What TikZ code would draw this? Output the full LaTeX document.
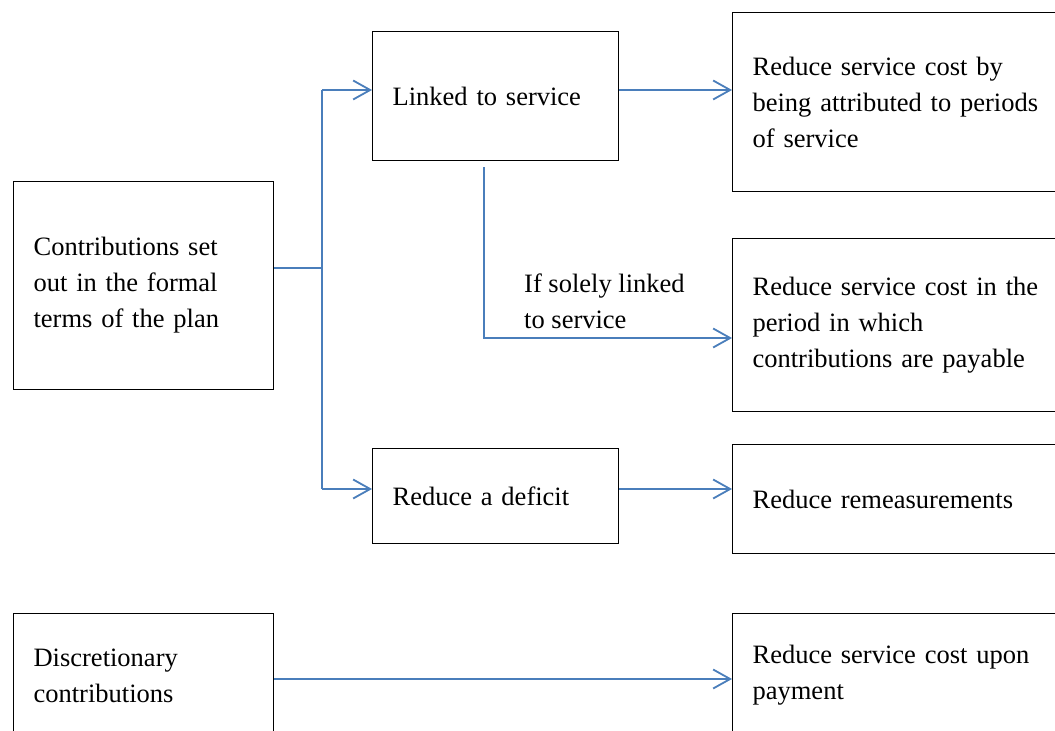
\documentclass[tikz,border=0pt]{standalone}
\usepackage{fontspec}
\setmainfont{Liberation Serif}
\usetikzlibrary{arrows.meta,calc}
\definecolor{conn}{RGB}{74,126,187}
\tikzset{
  box/.style={draw=black, line width=1.2pt, anchor=north west, inner xsep=20pt, inner ysep=0pt,
    align=left, font=\fontsize{26.5}{36}\selectfont},
  conn/.style={draw=conn, line width=1.8pt, -{Straight Barb[length=17pt,width=19pt,line width=1.8pt]}},
  line/.style={draw=conn, line width=1.8pt},
  lbl/.style={anchor=west, align=left, inner sep=0pt, font=\fontsize{26.5}{36}\selectfont}
}
\begin{document}
\begin{tikzpicture}[x=1pt,y=-1pt]
\clip (0,0) rectangle (1055,731);
\fill[white] (0,0) rectangle (1055,731);
% boxes: text width = width - 40
\node[box, text width=220pt, minimum height=208pt] (A) at (13,181) {Contributions set\\out in the formal\\terms of the plan};
\node[box, text width=206pt, minimum height=129pt] (B) at (372,31) {Linked to service};
\node[box, text width=300pt, minimum height=179pt] (C) at (732,12) {Reduce service cost by\\being attributed to periods\\of service};
\node[box, text width=300pt, minimum height=173pt] (D) at (732,238) {Reduce service cost in the\\period in which\\contributions are payable};
\node[box, text width=206pt, minimum height=95pt] (E) at (372,448) {Reduce a deficit};
\node[box, text width=300pt, minimum height=109pt] (F) at (732,444) {Reduce remeasurements};
\node[box, text width=220pt, minimum height=124pt] (G) at (13,613) {Discretionary\\contributions};
\node[box, text width=300pt, minimum height=124pt] (H) at (732,613) {Reduce service cost upon\\payment};
\node[lbl] (L) at (524,301) {If solely linked\\to service};
% junction coordinates
\coordinate (j) at (322,268);
\coordinate (jt) at (322,90);
\coordinate (jb) at (322,489);
\coordinate (bs) at (484,167);
\coordinate (bd) at (484,338);
% connectors
\draw[line] (A.east |- j) -- (j);
\draw[line] (jt) -- (jb);
\draw[conn] (jt) -- (jt -| B.west);
\draw[conn] (jb) -- (jb -| E.west);
\draw[conn] (jt -| B.east) -- (jt -| C.west);
\draw[conn] (bs) -- (bd) -- (bd -| D.west);
\draw[conn] (jb -| E.east) -- (jb -| F.west);
\draw[conn] (G.east |- 0,679) -- (H.west |- 0,679);
\end{tikzpicture}
\end{document}
